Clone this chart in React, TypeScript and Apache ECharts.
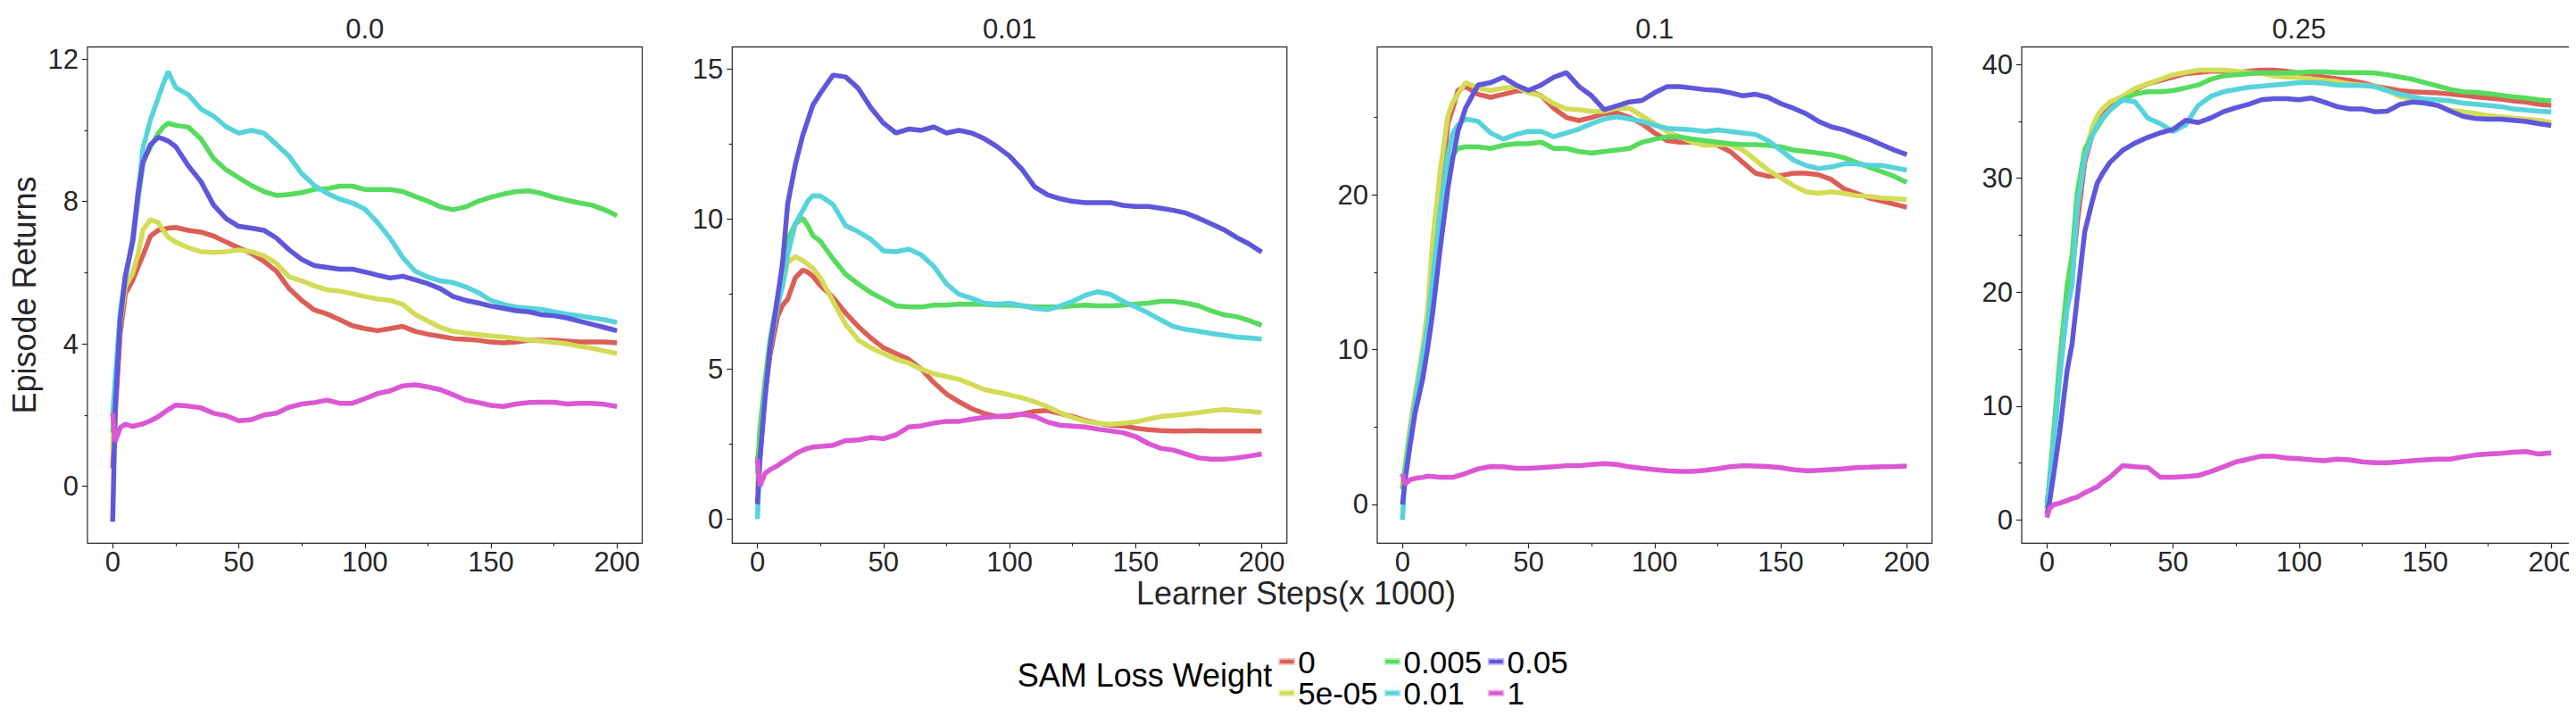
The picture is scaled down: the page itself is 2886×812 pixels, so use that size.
import React, { useEffect, useRef } from "react";
import * as echarts from "echarts";

// ---------- data ----------
const STEPS = [0, 1, 3, 5, 8, 10, 12, 15, 18, 20, 22, 25, 30, 35, 40, 45, 50, 55, 60, 65, 70, 75, 80, 85, 90, 95, 100, 105, 110, 115, 120, 125, 130, 135, 140, 145, 150, 155, 160, 165, 170, 175, 180, 185, 190, 195, 200];

const WEIGHTS = ["0", "5e-05", "0.005", "0.01", "0.05", "1"];
const COLORS = ["#db5f57", "#d3db57", "#57db5e", "#57d3db", "#5f57db", "#db57d3"];
const PANEL_TITLES = ["0.0", "0.01", "0.1", "0.25"];

// panel "0.0"
const P1_W0 = [0.5, 2.0, 4.3, 5.4, 5.8, 6.15, 6.48, 7.03, 7.19, 7.22, 7.25, 7.27, 7.19, 7.14, 7.03, 6.86, 6.7, 6.54, 6.32, 6.04, 5.55, 5.22, 4.95, 4.84, 4.68, 4.51, 4.43, 4.37, 4.43, 4.49, 4.35, 4.27, 4.21, 4.15, 4.13, 4.1, 4.05, 4.03, 4.05, 4.1, 4.1, 4.1, 4.08, 4.05, 4.05, 4.05, 4.03];
const P1_W1 = [1.0, 2.5, 4.6, 5.6, 6.0, 6.5, 7.2, 7.49, 7.41, 7.19, 7.0, 6.86, 6.7, 6.59, 6.57, 6.59, 6.64, 6.59, 6.48, 6.26, 5.88, 5.77, 5.63, 5.52, 5.48, 5.41, 5.33, 5.26, 5.22, 5.11, 4.82, 4.64, 4.46, 4.35, 4.3, 4.26, 4.22, 4.19, 4.15, 4.11, 4.08, 4.04, 4.0, 3.93, 3.88, 3.8, 3.73];
const P1_W2 = [1.5, 2.8, 4.8, 5.9, 6.9, 8.0, 9.1, 9.54, 9.9, 10.09, 10.2, 10.14, 10.09, 9.76, 9.21, 8.89, 8.67, 8.45, 8.28, 8.17, 8.2, 8.25, 8.34, 8.36, 8.43, 8.43, 8.34, 8.34, 8.34, 8.28, 8.14, 8.01, 7.85, 7.77, 7.85, 8.01, 8.12, 8.21, 8.28, 8.3, 8.23, 8.12, 8.04, 7.96, 7.9, 7.77, 7.6];
const P1_W3 = [2.0, 3.0, 4.9, 5.8, 7.0, 8.2, 9.5, 10.3, 10.9, 11.3, 11.65, 11.2, 11.0, 10.6, 10.4, 10.1, 9.92, 10.0, 9.92, 9.6, 9.27, 8.78, 8.45, 8.23, 8.07, 7.96, 7.79, 7.41, 6.97, 6.43, 6.04, 5.88, 5.77, 5.72, 5.6, 5.44, 5.22, 5.11, 5.03, 5.0, 4.97, 4.9, 4.84, 4.79, 4.73, 4.68, 4.6];
const P1_W4 = [-1.0, 2.2, 4.7, 5.9, 6.9, 8.2, 9.1, 9.6, 9.8, 9.76, 9.7, 9.54, 9.0, 8.56, 7.9, 7.52, 7.3, 7.25, 7.19, 6.97, 6.64, 6.37, 6.2, 6.15, 6.1, 6.1, 6.02, 5.93, 5.85, 5.9, 5.8, 5.69, 5.55, 5.33, 5.22, 5.15, 5.06, 5.0, 4.93, 4.9, 4.82, 4.79, 4.73, 4.64, 4.55, 4.46, 4.37];
const P1_W5 = [2.05, 1.25, 1.65, 1.74, 1.68, 1.72, 1.75, 1.84, 1.95, 2.05, 2.15, 2.28, 2.25, 2.2, 2.05, 1.98, 1.84, 1.87, 2.0, 2.05, 2.22, 2.31, 2.35, 2.42, 2.33, 2.33, 2.46, 2.6, 2.68, 2.82, 2.85, 2.79, 2.71, 2.57, 2.42, 2.35, 2.27, 2.24, 2.31, 2.35, 2.36, 2.36, 2.31, 2.33, 2.33, 2.3, 2.24];

// panel "0.01"
const P2_W0 = [2.0, 2.5, 4.2, 5.45, 6.75, 7.13, 7.33, 8.04, 8.3, 8.23, 8.1, 7.78, 7.39, 6.87, 6.42, 6.04, 5.71, 5.52, 5.33, 5.0, 4.55, 4.17, 3.91, 3.68, 3.52, 3.42, 3.42, 3.5, 3.59, 3.62, 3.52, 3.42, 3.29, 3.2, 3.13, 3.11, 3.03, 2.98, 2.95, 2.94, 2.94, 2.95, 2.94, 2.94, 2.94, 2.94, 2.94];
const P2_W1 = [1.0, 2.5, 4.3, 5.7, 7.26, 7.78, 8.55, 8.75, 8.62, 8.49, 8.36, 8.04, 7.26, 6.49, 5.97, 5.71, 5.52, 5.33, 5.2, 5.0, 4.84, 4.75, 4.66, 4.49, 4.32, 4.23, 4.14, 4.04, 3.91, 3.75, 3.55, 3.39, 3.26, 3.2, 3.16, 3.2, 3.24, 3.33, 3.42, 3.46, 3.5, 3.55, 3.61, 3.65, 3.62, 3.59, 3.55];
const P2_W2 = [1.5, 3.0, 4.6, 5.97, 7.39, 8.04, 9.3, 9.84, 10.03, 9.78, 9.45, 9.26, 8.68, 8.16, 7.84, 7.55, 7.33, 7.11, 7.07, 7.07, 7.13, 7.13, 7.17, 7.16, 7.16, 7.13, 7.13, 7.11, 7.07, 7.07, 7.07, 7.11, 7.13, 7.11, 7.11, 7.13, 7.17, 7.2, 7.26, 7.26, 7.2, 7.11, 6.94, 6.81, 6.75, 6.62, 6.46];
const P2_W3 = [0.0, 2.0, 4.2, 5.7, 7.1, 7.8, 8.8, 9.84, 10.29, 10.6, 10.78, 10.77, 10.49, 9.78, 9.58, 9.33, 8.94, 8.91, 9.0, 8.81, 8.42, 7.84, 7.49, 7.36, 7.2, 7.16, 7.2, 7.11, 7.03, 6.98, 7.11, 7.26, 7.46, 7.58, 7.49, 7.26, 7.07, 6.87, 6.64, 6.42, 6.32, 6.26, 6.19, 6.13, 6.07, 6.04, 6.0];
const P2_W4 = [0.5, 2.0, 4.0, 5.7, 7.4, 8.55, 10.5, 11.8, 12.8, 13.3, 13.8, 14.2, 14.8, 14.74, 14.36, 13.71, 13.2, 12.87, 13.0, 12.96, 13.07, 12.87, 12.96, 12.87, 12.68, 12.42, 12.1, 11.65, 11.07, 10.81, 10.68, 10.59, 10.55, 10.55, 10.55, 10.46, 10.42, 10.42, 10.36, 10.29, 10.2, 10.03, 9.84, 9.65, 9.39, 9.17, 8.9];
const P2_W5 = [2.0, 1.1, 1.52, 1.65, 1.78, 1.9, 2.0, 2.17, 2.3, 2.36, 2.4, 2.42, 2.46, 2.62, 2.64, 2.72, 2.68, 2.81, 3.07, 3.11, 3.2, 3.26, 3.26, 3.33, 3.39, 3.42, 3.46, 3.5, 3.42, 3.24, 3.13, 3.1, 3.07, 3.0, 2.94, 2.88, 2.75, 2.52, 2.36, 2.3, 2.17, 2.04, 2.0, 2.0, 2.04, 2.1, 2.17];

// panel "0.1"
const P3_W0 = [1.0, 2.3, 4.8, 6.9, 9.9, 12.1, 15.1, 19.6, 24.6, 25.6, 26.75, 27.0, 26.5, 26.3, 26.5, 26.7, 26.75, 26.4, 25.6, 25.0, 24.8, 25.0, 25.25, 25.3, 25.0, 24.6, 24.0, 23.5, 23.4, 23.4, 23.3, 23.2, 22.8, 22.1, 21.4, 21.2, 21.25, 21.4, 21.4, 21.3, 21.0, 20.4, 20.1, 19.8, 19.6, 19.4, 19.2];
const P3_W1 = [1.5, 2.5, 5.0, 7.1, 10.1, 12.6, 17.1, 21.6, 25.1, 26.0, 26.5, 27.25, 26.9, 26.75, 26.9, 27.0, 26.6, 26.4, 25.9, 25.55, 25.5, 25.4, 25.4, 25.6, 25.6, 25.1, 24.6, 24.1, 23.75, 23.4, 23.2, 23.25, 23.25, 22.9, 22.25, 21.6, 21.1, 20.6, 20.2, 20.1, 20.2, 20.1, 19.95, 19.9, 19.8, 19.75, 19.7];
const P3_W2 = [1.0, 2.2, 4.4, 6.4, 9.1, 10.9, 13.6, 18.1, 21.4, 22.6, 23.0, 23.1, 23.1, 23.0, 23.2, 23.3, 23.3, 23.4, 23.0, 23.0, 22.8, 22.7, 22.8, 22.9, 23.0, 23.4, 23.6, 23.75, 23.75, 23.6, 23.5, 23.4, 23.3, 23.25, 23.25, 23.2, 23.1, 22.9, 22.8, 22.7, 22.6, 22.4, 22.1, 21.8, 21.5, 21.2, 20.8];
const P3_W3 = [-1.0, 2.0, 4.5, 6.6, 9.6, 11.6, 14.6, 19.1, 22.6, 24.0, 24.5, 24.9, 24.75, 24.0, 23.6, 23.9, 24.1, 24.1, 23.75, 24.0, 24.25, 24.6, 24.9, 25.05, 24.9, 24.75, 24.5, 24.3, 24.25, 24.2, 24.1, 24.2, 24.1, 24.0, 23.9, 23.5, 22.9, 22.25, 21.9, 21.7, 21.8, 22.0, 22.0, 21.9, 21.9, 21.75, 21.6];
const P3_W4 = [0.0, 1.5, 3.8, 5.9, 8.1, 10.1, 12.4, 16.6, 20.4, 22.4, 24.1, 25.6, 27.1, 27.25, 27.6, 27.1, 26.75, 27.1, 27.6, 27.9, 27.0, 26.4, 25.5, 25.75, 26.0, 26.1, 26.6, 27.0, 27.0, 26.9, 26.8, 26.75, 26.6, 26.4, 26.5, 26.3, 25.9, 25.6, 25.25, 24.75, 24.4, 24.2, 23.9, 23.6, 23.25, 22.9, 22.6];
const P3_W5 = [2.0, 1.3, 1.6, 1.68, 1.75, 1.83, 1.8, 1.75, 1.75, 1.75, 1.85, 2.0, 2.3, 2.45, 2.43, 2.33, 2.33, 2.38, 2.43, 2.5, 2.5, 2.58, 2.63, 2.58, 2.43, 2.33, 2.25, 2.18, 2.13, 2.13, 2.2, 2.3, 2.43, 2.5, 2.48, 2.45, 2.38, 2.25, 2.18, 2.2, 2.25, 2.3, 2.38, 2.4, 2.43, 2.45, 2.48];

// panel "0.25"
const P4_W0 = [1.5, 3.0, 7.8, 12.7, 19.2, 21.6, 26.0, 31.4, 33.8, 34.8, 35.5, 36.2, 37.0, 37.8, 38.3, 38.6, 38.9, 39.2, 39.3, 39.4, 39.4, 39.3, 39.4, 39.5, 39.5, 39.4, 39.25, 39.1, 38.9, 38.75, 38.6, 38.4, 38.1, 37.9, 37.7, 37.6, 37.55, 37.5, 37.4, 37.3, 37.15, 37.05, 36.95, 36.8, 36.7, 36.5, 36.4];
const P4_W1 = [1.0, 3.2, 8.2, 13.4, 19.2, 21.9, 27.4, 32.1, 34.5, 35.5, 36.1, 36.7, 37.2, 37.9, 38.3, 38.7, 39.1, 39.3, 39.5, 39.5, 39.5, 39.4, 39.3, 39.2, 39.0, 38.9, 38.85, 38.75, 38.6, 38.5, 38.3, 38.2, 38.1, 37.7, 37.2, 36.9, 36.7, 36.4, 36.0, 35.85, 35.7, 35.5, 35.4, 35.3, 35.2, 35.1, 34.9];
const P4_W2 = [1.0, 3.5, 8.5, 13.8, 20.6, 23.3, 28.7, 32.5, 33.8, 34.5, 35.2, 36.0, 36.9, 37.4, 37.6, 37.6, 37.7, 37.95, 38.2, 38.7, 39.0, 39.1, 39.2, 39.25, 39.25, 39.25, 39.3, 39.35, 39.35, 39.3, 39.3, 39.3, 39.25, 39.1, 38.9, 38.7, 38.4, 38.1, 37.8, 37.6, 37.55, 37.45, 37.3, 37.15, 37.05, 36.9, 36.8];
const P4_W3 = [1.5, 3.0, 7.5, 12.4, 18.5, 20.6, 27.4, 31.8, 33.8, 34.7, 35.3, 36.0, 36.9, 36.7, 35.3, 34.8, 34.1, 34.7, 36.4, 37.2, 37.6, 37.8, 38.0, 38.1, 38.2, 38.3, 38.4, 38.4, 38.35, 38.2, 38.15, 38.15, 38.05, 37.7, 37.4, 37.15, 36.95, 36.9, 36.8, 36.6, 36.5, 36.4, 36.3, 36.1, 36.0, 35.9, 35.85];
const P4_W4 = [0.5, 1.5, 4.5, 7.6, 13.1, 15.5, 19.5, 25.3, 28.0, 29.6, 30.4, 31.4, 32.45, 33.1, 33.6, 34.0, 34.3, 35.1, 34.9, 35.3, 35.85, 36.2, 36.5, 36.9, 37.0, 37.0, 36.9, 37.05, 36.7, 36.3, 36.1, 36.1, 35.85, 35.9, 36.5, 36.7, 36.6, 36.4, 35.9, 35.45, 35.25, 35.2, 35.2, 35.1, 35.0, 34.8, 34.65];
const P4_W5 = [0.2, 1.0, 1.36, 1.46, 1.7, 1.87, 2.0, 2.38, 2.7, 2.9, 3.3, 3.74, 4.76, 4.66, 4.6, 3.74, 3.74, 3.8, 3.9, 4.25, 4.66, 5.1, 5.34, 5.6, 5.6, 5.44, 5.37, 5.27, 5.2, 5.34, 5.27, 5.1, 5.03, 5.03, 5.1, 5.2, 5.27, 5.34, 5.34, 5.54, 5.7, 5.78, 5.85, 5.95, 6.0, 5.78, 5.88];

const PANEL_SERIES = [
  [P1_W0, P1_W1, P1_W2, P1_W3, P1_W4, P1_W5],
  [P2_W0, P2_W1, P2_W2, P2_W3, P2_W4, P2_W5],
  [P3_W0, P3_W1, P3_W2, P3_W3, P3_W4, P3_W5],
  [P4_W0, P4_W1, P4_W2, P4_W3, P4_W4, P4_W5],
];

// tick values
const X_MAJOR = [0, 50, 100, 150, 200];
const X_MINOR = [25, 75, 125, 175];
const Y_MAJOR = [[0, 4, 8, 12], [0, 5, 10, 15], [0, 10, 20], [0, 10, 20, 30, 40]];
const Y_MINOR = [[2, 6, 10], [2.5, 7.5, 12.5], [5, 15, 25], [5, 15, 25, 35]];
const Y_RANGE = [[-1.6, 12.34], [-0.8, 15.735], [-2.5, 29.55], [-2.04, 41.53]];
const X_RANGE = [-10, 210];

// ---------- layout ----------
const W = 2886;
const H = 812;
const GRID_LEFT = [90, 812.3, 1535, 2257];
const GRID_W = 621.5;
const GRID_TOP = 44.7;
const GRID_H = 555.6;
const FONT = "'Liberation Sans', Arial, Helvetica, sans-serif";
const TXT = "#262626";

function hexToRgba(hex: string, a: number) {
  const n = parseInt(hex.slice(1), 16);
  return `rgba(${(n >> 16) & 255},${(n >> 8) & 255},${n & 255},${a})`;
}

function buildOption() {
  const grid: any[] = [];
  const xAxis: any[] = [];
  const yAxis: any[] = [];
  const series: any[] = [];
  const graphic: any[] = [];
  const tickLine = { color: TXT, width: 1.2 };
  const labelStyle = { fontSize: 31, color: TXT, fontFamily: FONT };

  for (let p = 0; p < 4; p++) {
    grid.push({
      left: GRID_LEFT[p],
      top: GRID_TOP,
      width: GRID_W,
      height: GRID_H,
      show: true,
      borderColor: TXT,
      borderWidth: 1.2,
      backgroundColor: "transparent",
      containLabel: false,
      outerBoundsMode: "none",
    });
    xAxis.push({
      type: "value",
      gridIndex: p,
      min: X_RANGE[0],
      max: X_RANGE[1],
      position: "bottom",
      axisLine: { show: false, onZero: false },
      splitLine: { show: false },
      axisTick: { show: true, customValues: X_MAJOR, length: 6, lineStyle: tickLine },
      axisLabel: { show: true, customValues: X_MAJOR, margin: 6, ...labelStyle },
    });
    xAxis.push({
      type: "value",
      gridIndex: p,
      min: X_RANGE[0],
      max: X_RANGE[1],
      position: "bottom",
      axisLine: { show: false, onZero: false },
      splitLine: { show: false },
      axisTick: { show: true, customValues: X_MINOR, length: 3.5, lineStyle: tickLine },
      axisLabel: { show: false },
    });
    yAxis.push({
      type: "value",
      gridIndex: p,
      min: Y_RANGE[p][0],
      max: Y_RANGE[p][1],
      position: "left",
      axisLine: { show: false, onZero: false },
      splitLine: { show: false },
      axisTick: { show: true, customValues: Y_MAJOR[p], length: 6, lineStyle: tickLine },
      axisLabel: { show: true, customValues: Y_MAJOR[p], margin: 10, ...labelStyle },
    });
    yAxis.push({
      type: "value",
      gridIndex: p,
      min: Y_RANGE[p][0],
      max: Y_RANGE[p][1],
      position: "left",
      axisLine: { show: false, onZero: false },
      splitLine: { show: false },
      axisTick: { show: true, customValues: Y_MINOR[p], length: 3.5, lineStyle: tickLine },
      axisLabel: { show: false },
    });

    PANEL_SERIES[p].forEach((vals, k) => {
      series.push({
        type: "line",
        name: WEIGHTS[k],
        xAxisIndex: 2 * p,
        yAxisIndex: 2 * p,
        data: STEPS.map((s, i) => [s, vals[i]]),
        showSymbol: false,
        symbol: "none",
        lineStyle: { color: COLORS[k], width: 5.5 },
        itemStyle: { color: COLORS[k] },
        z: 2 + k,
        emphasis: { disabled: true },
      });
    });

    graphic.push({
      type: "text",
      x: GRID_LEFT[p] + GRID_W / 2,
      y: 24,
      style: { text: PANEL_TITLES[p], fill: TXT, fontSize: 31, fontFamily: FONT, align: "center", verticalAlign: "middle" },
    });
  }

  graphic.push({
    type: "text",
    x: 19,
    y: GRID_TOP + GRID_H / 2,
    rotation: Math.PI / 2,
    style: { text: "Episode Returns", fill: TXT, fontSize: 36, fontFamily: FONT, align: "center", verticalAlign: "middle" },
  });
  graphic.push({
    type: "text",
    x: 1444,
    y: 656,
    style: { text: "Learner Steps(x 1000)", fill: TXT, fontSize: 36, fontFamily: FONT, align: "center", verticalAlign: "middle" },
  });
  graphic.push({
    type: "text",
    x: 1131.7,
    y: 748,
    style: { text: "SAM Loss Weight", fill: "#000", fontSize: 36, fontFamily: FONT, align: "left", verticalAlign: "middle" },
  });

  const legendCols = [[0, 1], [2, 3], [4, 5]];
  const legendLeft = [1424.5, 1542.8, 1658.8];
  const legend = legendCols.map((idxs, c) => ({
    show: true,
    orient: "vertical",
    left: legendLeft[c],
    top: 715.5,
    padding: 0,
    itemGap: 0.3,
    itemWidth: 15,
    itemHeight: 4,
    icon: "rect",
    selectedMode: false,
    textStyle: { fontSize: 35, color: "#000", fontFamily: FONT, lineHeight: 35 },
    data: idxs.map((k) => ({
      name: WEIGHTS[k],
      icon: "rect",
      itemStyle: { color: COLORS[k], borderColor: hexToRgba(COLORS[k], 0.45), borderWidth: 3.5 },
    })),
  }));

  return {
    animation: false,
    backgroundColor: "#ffffff",
    grid,
    xAxis,
    yAxis,
    series,
    graphic,
    legend,
    tooltip: { show: false },
  };
}

export default function App() {
  const ref = useRef<HTMLDivElement>(null);
  useEffect(() => {
    if (!ref.current) return;
    const chart = echarts.init(ref.current, null, { renderer: "svg", width: W, height: H });
    chart.setOption(buildOption() as any);
    return () => chart.dispose();
  }, []);
  return (
    <div
      ref={ref}
      style={{ position: "fixed", left: 0, top: 0, width: W, height: H, background: "#fff" }}
    />
  );
}
